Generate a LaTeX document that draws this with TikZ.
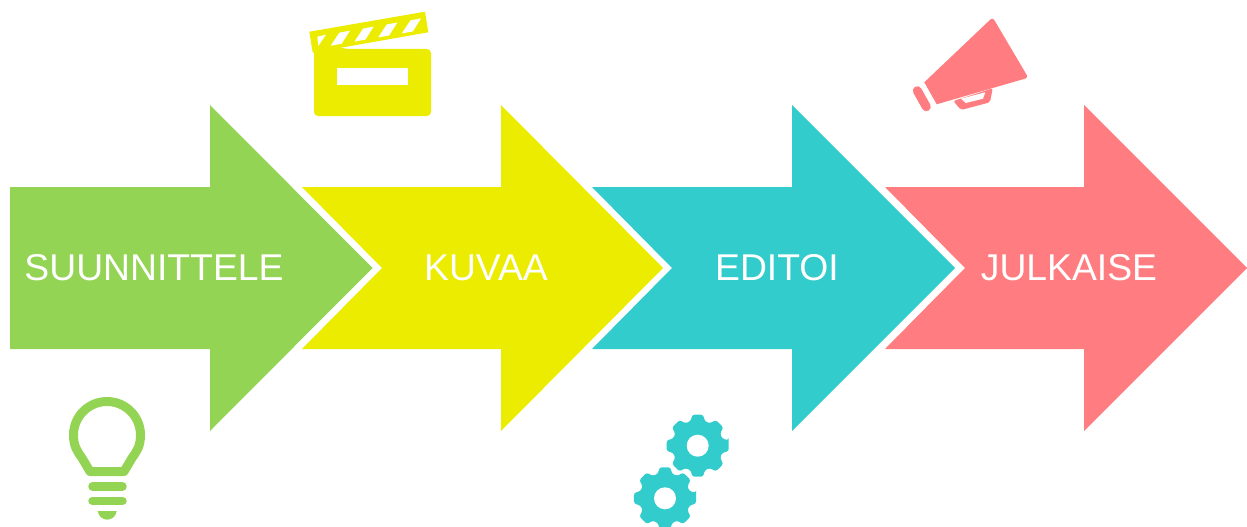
\documentclass[tikz,border=0pt]{standalone}
\usepackage{fontspec}
\setmainfont{Liberation Sans}
\usetikzlibrary {positioning}
\definecolor{leaf}{HTML}{94D454}
\definecolor{lemon}{HTML}{ECEC00}
\definecolor{aqua}{HTML}{33CCCC}
\definecolor{salmon}{HTML}{FF7C80}
\begin{document}
\begin{tikzpicture}[x=1pt,y=-1pt,
steplabel/.style ={text=white, font=\fontsize{37.3}{37.3}\selectfont, inner sep=0pt, anchor=base},
bulbline/.style ={leaf, line width=8.5pt, line cap=round}]
\useasboundingbox (0,0) rectangle (1247,527);
% arrows
\fill[leaf] (10,187) -- (210,187) -- (210,105) -- (372.5,268) -- (210,431) -- (210,349) -- (10,349) -- cycle;
\fill[lemon] (302,187) -- (501,187) -- (501,105) -- (663,268) -- (501,431) -- (501,349) -- (302,349) -- (382,268) -- cycle;
\fill[aqua] (592,187) -- (792,187) -- (792,105) -- (955,268) -- (792,431) -- (792,349) -- (592,349) -- (672,268) -- cycle;
\fill[salmon] (885,187) -- (1084,187) -- (1084,105) -- (1247,268) -- (1084,431) -- (1084,349) -- (885,349) -- (965,268) -- cycle;
% labels
\node[steplabel] (suunnittele) at (154,280) {SUUNNITTELE};
\node[steplabel] (kuvaa) at (486,280) {KUVAA};
\node[steplabel] (editoi) at (777,280) {EDITOI};
\node[steplabel] (julkaise) at (1069,280) {JULKAISE};
% clapper
\fill[lemon, rounded corners=4pt] (346,49) -- (431,49) -- (431,116) -- (314,116) -- (314,40) -- cycle;
\fill[lemon] (309.3,31.7) -- (425,11.7) -- (428.3,32.3) -- (312.7,52.7) -- cycle;
\fill[white] (337,68) rectangle (408,85);
\fill[white] (317.3,36.7) -- (326,34.7) -- (318.3,46) -- cycle;
\foreach \x in {0,1,2,3} {
\fill[white] ({330.7+\x*23.7},{45.7-\x*4.1}) -- ({339.3+\x*23.7},{32.7-\x*4.1}) -- ({350+\x*23.7},{30.7-\x*4.1}) -- ({341.7+\x*23.7},{43.7-\x*4.1}) -- cycle;
}
% megaphone
\fill[salmon] (924.3,82.3) [rounded corners=3pt] -- (992.7,17.3) -- (1028.3,77.7) [sharp corners] -- (936.7,104.3) -- cycle;
\draw[salmon, line width=9pt, line cap=round] (917.3,90.7) -- (926.3,106.7);
\fill[salmon, rounded corners=2pt] (953.3,101) -- (961,110) -- (990,102.3) -- (992.7,88.3) -- cycle;
\fill[white] (961,98.7) -- (985.3,92.3) -- (983,98.7) -- (965.7,103) -- cycle;
% bulb
\draw[leaf, line width=9pt, line join=round] (90,471.5) -- (82,458) .. controls (77,451) and (73.5,446) .. (73.5,435) .. controls (73.5,416.5) and (88.5,401.5) .. (107,401.5) .. controls (125.5,401.5) and (140.5,416.5) .. (140.5,435) .. controls (140.5,446) and (137,451) .. (132,458) -- (124,471.5) -- cycle;
\draw[bulbline] (92.5,486.5) -- (122.5,486.5);
\draw[bulbline] (92.5,501) -- (122.5,501);
\fill[leaf] (97.7,511) -- (116.7,511) .. controls (115,522.5) and (99.5,522.5) .. (97.7,511) -- cycle;
% gears
\foreach \cx/\cy in {697.7/445.7, 665/498.3} {
\fill[aqua, rounded corners=2.5pt] ({\cx+31.5*cos(-10)},{\cy+31.5*sin(-10)}) \foreach \a in {0,45,...,315} {
-- ({\cx+31.5*cos(\a-10)},{\cy+31.5*sin(\a-10)}) -- ({\cx+31.5*cos(\a+10)},{\cy+31.5*sin(\a+10)}) -- ({\cx+25.5*cos(\a+16)},{\cy+25.5*sin(\a+16)}) -- ({\cx+25.5*cos(\a+29)},{\cy+25.5*sin(\a+29)})
} -- cycle;
\fill[white] (\cx,\cy) circle (11);
}
\end{tikzpicture}
\end{document}
